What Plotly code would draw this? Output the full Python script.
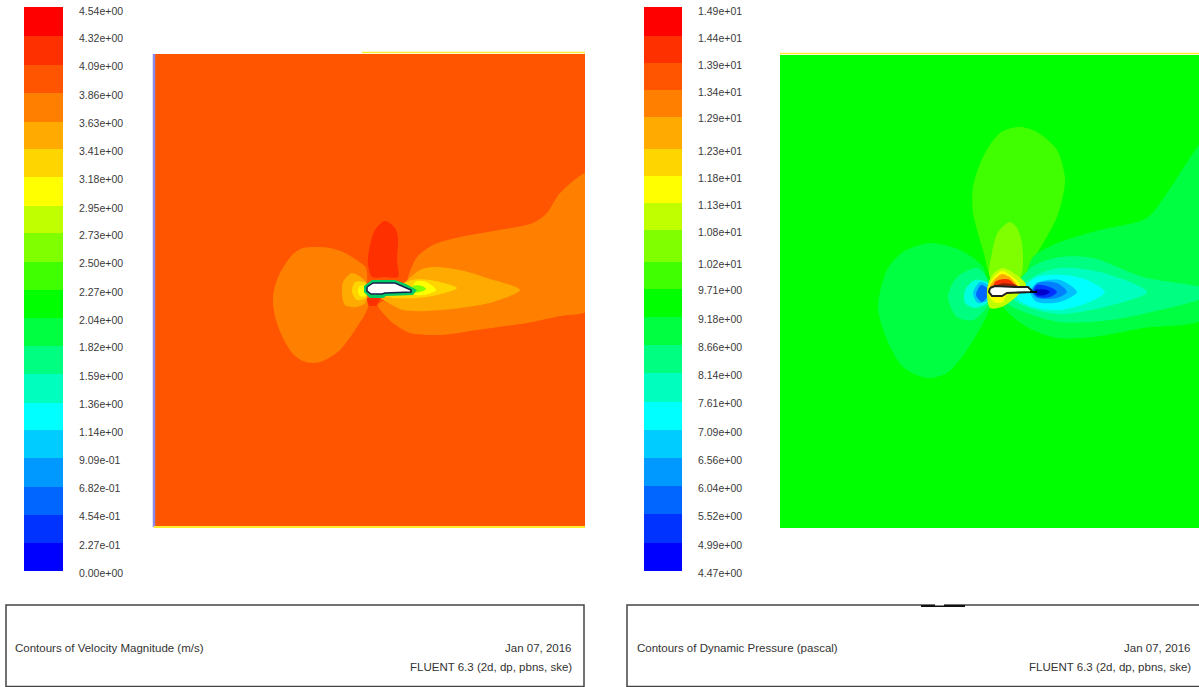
import plotly.graph_objects as go

W, H = 1199, 687

# ---------- colour bands (bottom to top) ----------
BAND_COLORS = ["#0000ff", "#0033ff", "#0066ff", "#0099ff", "#00ccff", "#00ffff", "#00ffbf", "#00ff80",
               "#00ff40", "#00ff00", "#40ff00", "#80ff00", "#bfff00", "#ffff00", "#ffd500", "#ffaa00",
               "#ff8000", "#ff5500", "#ff3000", "#ff0000"]

# ---------- colour bar tick labels (bottom to top) ----------
VEL_TICKS = ["0.00e+00", "2.27e-01", "4.54e-01", "6.82e-01", "9.09e-01", "1.14e+00", "1.36e+00",
             "1.59e+00", "1.82e+00", "2.04e+00", "2.27e+00", "2.50e+00", "2.73e+00", "2.95e+00",
             "3.18e+00", "3.41e+00", "3.63e+00", "3.86e+00", "4.09e+00", "4.32e+00", "4.54e+00"]
PRS_TICKS = ["4.47e+00", "4.99e+00", "5.52e+00", "6.04e+00", "6.56e+00", "7.09e+00", "7.61e+00",
             "8.14e+00", "8.66e+00", "9.18e+00", "9.71e+00", "1.02e+01", "1.08e+01", "1.13e+01",
             "1.18e+01", "1.23e+01", "1.29e+01", "1.34e+01", "1.39e+01", "1.44e+01", "1.49e+01"]

# ---------- velocity contour outlines ----------
V_WAKE_OUT_X = [405, 408, 417, 433, 460, 493, 533, 547, 560, 590, 590, 560, 527, 477, 440, 410, 393, 383, 378]
V_WAKE_OUT_Y = [290, 277, 257, 245, 237, 231, 223, 213, 193, 172, 309, 316, 323, 330, 335, 333, 323, 313, 305]
V_LOBE_X = [368, 367, 366, 355, 343, 330, 317, 303, 293, 280, 274, 273, 276, 284, 293, 303, 313, 323, 340, 357]
V_LOBE_Y = [307, 290, 268, 259, 252, 248, 247, 248, 254, 273, 290, 303, 320, 340, 354, 361, 363, 361, 350, 327]
V_TOP_X = [398, 385, 372, 368, 369, 375, 385, 395, 398, 397]
V_TOP_Y = [277, 277, 277, 263, 250, 230, 221, 228, 237, 260]
V_BELOW_X = [366, 381, 376, 369]
V_BELOW_Y = [298, 298, 306, 306]
V_WAKE_MID_X = [405, 420, 433, 460, 487, 520, 493, 460, 427, 403, 387, 380]
V_WAKE_MID_Y = [282, 270, 267, 270, 278, 290, 302, 308, 311, 310, 302, 297]
V_WAKE_IN_X = [412, 430, 457, 437, 417, 393, 383]
V_WAKE_IN_Y = [280, 280, 288, 295, 298, 298, 296]
V_WAKE_YEL_X = [415, 426, 436, 424, 412]
V_WAKE_YEL_Y = [282, 282, 290, 295, 294]
V_WAKE_GRN_X = [413, 422, 426, 420, 412]
V_WAKE_GRN_Y = [286, 286, 289, 292, 292]
V_FRONT_MID_X = [366, 352, 343, 342, 345, 357, 366]
V_FRONT_MID_Y = [282, 273, 282, 293, 305, 307, 302]
V_FRONT_IN_X = [366, 355, 352, 357, 366]
V_FRONT_IN_Y = [283, 282, 292, 300, 298]
V_FRONT_YEL_X = [366, 360, 358, 360, 366]
V_FRONT_YEL_Y = [286, 286, 291, 296, 296]
V_RING_X = [364, 372, 395, 406, 417, 413, 386, 383, 370, 364]
V_RING_Y = [286, 280, 280, 284, 290, 295, 296, 298, 298, 292]
V_FOIL_X = [367, 373, 395, 405, 411, 411, 385, 382, 371, 367]
V_FOIL_Y = [287, 283, 283, 287, 290, 292, 293, 294, 294, 291]

# ---------- dynamic pressure contour outlines ----------
P_LOBE_UP_X = [1023, 992, 983, 973, 973, 983, 1000, 1020, 1037, 1057, 1065, 1057, 1033]
P_LOBE_UP_Y = [277, 277, 250, 213, 187, 157, 133, 127, 132, 150, 180, 217, 260]
P_LOBE_IN_X = [1020, 990, 992, 998, 1010, 1017, 1022]
P_LOBE_IN_Y = [277, 277, 253, 232, 222, 228, 243]
P_WAKE_1_X = [1025, 1033, 1060, 1100, 1147, 1167, 1210, 1210, 1143, 1093, 1057, 1027, 1003]
P_WAKE_1_Y = [277, 257, 242, 230, 218, 193, 135, 315, 328, 337, 338, 327, 305]
P_WAKE_2_X = [1032, 1060, 1093, 1143, 1210, 1210, 1160, 1110, 1060, 1027, 1007]
P_WAKE_2_Y = [267, 257, 258, 277, 290, 295, 310, 320, 322, 313, 302]
P_WAKE_3_X = [1033, 1060, 1100, 1147, 1100, 1060, 1030, 1013]
P_WAKE_3_Y = [277, 268, 272, 292, 308, 314, 308, 298]
P_WAKE_4_X = [1035, 1063, 1087, 1105, 1087, 1060, 1033, 1017]
P_WAKE_4_Y = [278, 275, 280, 292, 303, 310, 307, 298]
P_WAKE_5_X = [1037, 1060, 1077, 1060, 1037, 1030]
P_WAKE_5_Y = [283, 280, 292, 302, 302, 292]
P_WAKE_6_X = [1037, 1057, 1067, 1057, 1037, 1032]
P_WAKE_6_Y = [283, 283, 292, 298, 298, 292]
P_WAKE_7_X = [1037, 1050, 1057, 1050, 1038, 1033]
P_WAKE_7_Y = [285, 287, 292, 297, 297, 292]
P_WAKE_8_X = [1035, 1047, 1050, 1045, 1037]
P_WAKE_8_Y = [290, 290, 292, 295, 295]
P_FRONT_1_X = [990, 988, 983, 960, 930, 903, 887, 878, 887, 903, 927, 947, 967]
P_FRONT_1_Y = [307, 290, 267, 250, 243, 252, 270, 307, 340, 367, 378, 373, 350]
P_FRONT_2_X = [988, 977, 957, 948, 957, 973, 988]
P_FRONT_2_Y = [280, 268, 277, 297, 317, 320, 305]
P_FRONT_3_X = [988, 975, 965, 965, 975, 988]
P_FRONT_3_Y = [283, 280, 290, 303, 308, 302]
P_FRONT_4_X = [988, 980, 973, 978, 988]
P_FRONT_4_Y = [285, 282, 293, 303, 300]
P_FRONT_5_X = [987, 981, 976, 982, 987]
P_FRONT_5_Y = [288, 285, 295, 302, 297]
P_NOSE_0_X = [1003, 992, 987, 990, 1004, 1026, 1018]
P_NOSE_0_Y = [268, 275, 290, 308, 306, 285, 276]
P_NOSE_1_X = [1002, 993, 988, 990, 997, 1003, 1006, 1020, 1014]
P_NOSE_1_Y = [271, 278, 288, 298, 303, 302, 296, 285, 278]
P_NOSE_2_X = [1002, 994, 990, 1017, 1012, 1008]
P_NOSE_2_Y = [274, 280, 287, 286, 279, 276]
P_NOSE_3_X = [995, 1003, 1010, 1014, 994]
P_NOSE_3_Y = [282, 279, 280, 285, 286]
P_NOSE_4_X = [993, 1003, 1014, 1018, 993]
P_NOSE_4_Y = [286, 283, 284, 286, 287]
P_FOIL_X = [990, 995, 1015, 1028, 1032, 1031, 1007, 1002, 992, 989]
P_FOIL_Y = [288, 286, 287, 287, 291, 292, 293, 296, 296, 292]
P_TIP_X = [1030, 1037]
P_TIP_Y = [292, 292]

# ---------- text ----------
V_TITLE = "Contours of Velocity Magnitude (m/s)"
P_TITLE = "Contours of Dynamic Pressure (pascal)"
DATE_TXT = "Jan 07, 2016"
SOLVER_TXT = "FLUENT 6.3 (2d, dp, pbns, ske)"

fig = go.Figure()
TEXT_FONT = "Liberation Sans"


def dom_x(a, b):
    return [a / W, b / W]


def dom_y(top, bot):
    return [1 - bot / H, 1 - top / H]


def add_colorbar(idx, x0, x1, top_px, bot_px, ticks):
    vals = [float(t) for t in ticks]
    step = (vals[-1] - vals[0]) / 20
    # ticks sit 28.1 px apart; the band edges sit 2 px above their ticks
    lift = step * 2 / 28.1
    top_val = vals[-1] + step * (11 - top_px) / 28.1
    edges = [v + lift for v in vals[:-1]] + [top_val]
    scale = []
    for i, c in enumerate(BAND_COLORS):
        scale += [[i / 20, c], [(i + 1) / 20, c]]
    fig.add_trace(go.Heatmap(x=[0, 1], y=edges, z=[[i] for i in range(20)], zmin=-0.5, zmax=19.5,
                             colorscale=scale, showscale=False, hoverinfo="skip",
                             xaxis=f"x{idx}", yaxis=f"y{idx}"))
    fig.update_layout({
        f"xaxis{idx}": dict(domain=dom_x(x0, x1), range=[0, 1], visible=False),
        f"yaxis{idx}": dict(domain=dom_y(top_px, 573), range=[vals[0], top_val], anchor=f"x{idx}",
                            side="right", tickmode="array", tickvals=vals, ticktext=ticks,
                            showgrid=False, zeroline=False, showline=False, ticks="", automargin=False,
                            ticklabelstandoff=15, tickfont=dict(family=TEXT_FONT, size=10.5, color="#3a3a3a")),
    })


add_colorbar(1, 24, 63, 7, 571, VEL_TICKS)
add_colorbar(2, 644, 682, 7, 571, PRS_TICKS)


def add_axes(idx, x0, x1):
    fig.update_layout({
        f"xaxis{idx}": dict(domain=dom_x(x0, x1), range=[x0, x1], visible=False),
        f"yaxis{idx}": dict(domain=dom_y(48, 532), range=[532, 48], visible=False, anchor=f"x{idx}"),
    })


add_axes(3, 150, 585)
add_axes(4, 776, 1199)


def region(idx, xs, ys, color, smooth=True):
    fig.add_trace(go.Scatter(x=xs + xs[:1], y=ys + ys[:1], mode="lines", fill="toself", fillcolor=color,
                             line=dict(width=0, color=color, shape="spline" if smooth else "linear",
                                       smoothing=0.8),
                             hoverinfo="skip", showlegend=False, xaxis=f"x{idx}", yaxis=f"y{idx}"))


def edge(idx, xs, ys, color, width):
    fig.add_trace(go.Scatter(x=xs, y=ys, mode="lines", line=dict(width=width, color=color), hoverinfo="skip",
                             showlegend=False, xaxis=f"x{idx}", yaxis=f"y{idx}"))


# velocity panel
region(3, [154, 585, 585, 154], [54, 54, 526, 526], "#ff5500", smooth=False)
region(3, V_WAKE_OUT_X, V_WAKE_OUT_Y, "#ff8000")
region(3, V_LOBE_X, V_LOBE_Y, "#ff8000")
region(3, V_TOP_X, V_TOP_Y, "#ff3000")
region(3, V_BELOW_X, V_BELOW_Y, "#ff3000", smooth=False)
region(3, V_WAKE_MID_X, V_WAKE_MID_Y, "#ffaa00")
region(3, V_WAKE_IN_X, V_WAKE_IN_Y, "#ffd500")
region(3, V_WAKE_YEL_X, V_WAKE_YEL_Y, "#ffff00")
region(3, V_WAKE_GRN_X, V_WAKE_GRN_Y, "#80ff00")
region(3, V_FRONT_MID_X, V_FRONT_MID_Y, "#ffaa00")
region(3, V_FRONT_IN_X, V_FRONT_IN_Y, "#ffd500")
region(3, V_FRONT_YEL_X, V_FRONT_YEL_Y, "#ffff00")
region(3, V_RING_X, V_RING_Y, "#00cc66", smooth=False)
region(3, V_FOIL_X, V_FOIL_Y, "#ffffff", smooth=False)
edge(3, V_FOIL_X + V_FOIL_X[:1], V_FOIL_Y + V_FOIL_Y[:1], "#10204a", 1.5)
edge(3, [362, 585], [52.5, 52.5], "#ffee30", 1.5)
edge(3, [154, 154], [54, 527], "#8a8ae8", 2.5)
edge(3, [154, 585], [527, 527], "#ffee30", 2)

# pressure panel
region(4, [780, 1199, 1199, 780], [55, 55, 528, 528], "#00ff00", smooth=False)
region(4, P_LOBE_UP_X, P_LOBE_UP_Y, "#40ff00")
region(4, P_LOBE_IN_X, P_LOBE_IN_Y, "#80ff00")
region(4, P_WAKE_1_X, P_WAKE_1_Y, "#00ff40")
region(4, P_WAKE_2_X, P_WAKE_2_Y, "#00ff80")
region(4, P_WAKE_3_X, P_WAKE_3_Y, "#00ffbf")
region(4, P_WAKE_4_X, P_WAKE_4_Y, "#00ffff")
region(4, P_WAKE_5_X, P_WAKE_5_Y, "#00bfff")
region(4, P_WAKE_6_X, P_WAKE_6_Y, "#0080ff")
region(4, P_WAKE_7_X, P_WAKE_7_Y, "#0033ff")
region(4, P_WAKE_8_X, P_WAKE_8_Y, "#0000cc")
region(4, P_FRONT_1_X, P_FRONT_1_Y, "#00ff40")
region(4, P_FRONT_2_X, P_FRONT_2_Y, "#00ff80")
region(4, P_FRONT_3_X, P_FRONT_3_Y, "#00ffdd")
region(4, P_FRONT_4_X, P_FRONT_4_Y, "#00bfff")
region(4, P_FRONT_5_X, P_FRONT_5_Y, "#0066ff")
region(4, P_NOSE_0_X, P_NOSE_0_Y, "#bfff00")
region(4, P_NOSE_1_X, P_NOSE_1_Y, "#ffff00")
region(4, P_NOSE_2_X, P_NOSE_2_Y, "#ffaa00")
region(4, P_NOSE_3_X, P_NOSE_3_Y, "#ff3000")
region(4, P_NOSE_4_X, P_NOSE_4_Y, "#a02000", smooth=False)
region(4, P_FOIL_X, P_FOIL_Y, "#ffffff", smooth=False)
edge(4, P_FOIL_X + P_FOIL_X[:1], P_FOIL_Y + P_FOIL_Y[:1], "#202020", 2)
edge(4, P_TIP_X, P_TIP_Y, "#000000", 2)
edge(4, [780, 1199], [53.5, 53.5], "#ffee30", 1.5)

# footer frames
shapes = []
for x0, x1 in ((6, 584), (627, 1200)):
    shapes.append(dict(type="rect", xref="paper", yref="paper", x0=x0 / W, x1=x1 / W, y0=1 - 686.5 / H,
                       y1=1 - 605 / H, line=dict(color="#444444", width=1.5), fillcolor="#ffffff"))
shapes.append(dict(type="line", xref="paper", yref="paper", x0=921 / W, x1=965 / W, y0=1 - 606 / H, y1=1 - 606 / H,
                   line=dict(color="#111111", width=2)))
shapes.append(dict(type="line", xref="paper", yref="paper", x0=935 / W, x1=944 / W, y0=1 - 604.5 / H, y1=1 - 604.5 / H,
                   line=dict(color="#ffffff", width=2)))


def note(text, x, y, anchor):
    return dict(text=text, xref="paper", yref="paper", x=x / W, y=1 - y / H, xanchor=anchor, yanchor="middle",
                showarrow=False, font=dict(family=TEXT_FONT, size=11.5, color="#333333"))


annotations = [
    note(V_TITLE, 13, 648, "left"), note(DATE_TXT, 574, 648, "right"), note(SOLVER_TXT, 574, 667, "right"),
    note(P_TITLE, 635, 648, "left"), note(DATE_TXT, 1193, 648, "right"), note(SOLVER_TXT, 1193, 667, "right"),
]

fig.update_layout(width=W, height=H, margin=dict(l=0, r=0, t=0, b=0, pad=0, autoexpand=False),
                  paper_bgcolor="#ffffff", plot_bgcolor="#ffffff", showlegend=False,
                  shapes=shapes, annotations=annotations)

fig.write_html("out.html", config={"displayModeBar": False},
               post_script="document.body.style.margin='0';document.documentElement.style.overflow='hidden';")
